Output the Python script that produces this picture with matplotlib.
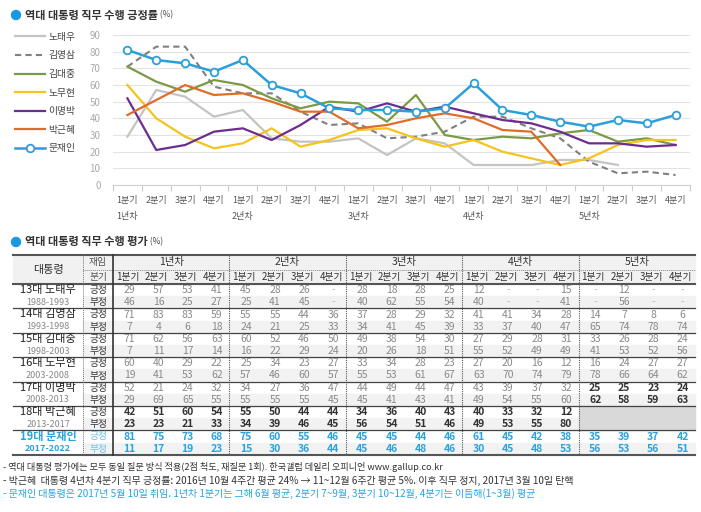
import matplotlib
matplotlib.use('Agg')
import matplotlib.pyplot as plt
from matplotlib.patches import Rectangle, Circle

plt.rcParams['font.family'] = ['Noto Sans CJK KR', 'DejaVu Sans']

W, H = 701, 512

# 데이터
presidents = ['노태우', '김영삼', '김대중', '노무현', '이명박', '박근혜', '문재인']
terms = ['13대', '14대', '15대', '16대', '17대', '18대', '19대']
periods = ['1988-1993', '1993-1998', '1998-2003', '2003-2008', '2008-2013', '2013-2017', '2017-2022']
quarters = ['1분기', '2분기', '3분기', '4분기']
year_labels = ['1년차', '2년차', '3년차', '4년차', '5년차']

N = None
pos_roh_tw = [29, 57, 53, 41, 45, 28, 26, N, 28, 18, 28, 25, 12, N, N, 15, N, 12, N, N]
neg_roh_tw = [46, 16, 25, 27, 25, 41, 45, N, 40, 62, 55, 54, 40, N, N, 41, N, 56, N, N]
pos_kim_ys = [71, 83, 83, 59, 55, 55, 44, 36, 37, 28, 29, 32, 41, 41, 34, 28, 14, 7, 8, 6]
neg_kim_ys = [7, 4, 6, 18, 24, 21, 25, 33, 34, 41, 45, 39, 33, 37, 40, 47, 65, 74, 78, 74]
pos_kim_dj = [71, 62, 56, 63, 60, 52, 46, 50, 49, 38, 54, 30, 27, 29, 28, 31, 33, 26, 28, 24]
neg_kim_dj = [7, 11, 17, 14, 16, 22, 29, 24, 20, 26, 18, 51, 55, 52, 49, 49, 41, 53, 52, 56]
pos_roh_mh = [60, 40, 29, 22, 25, 34, 23, 27, 33, 34, 28, 23, 27, 20, 16, 12, 16, 24, 27, 27]
neg_roh_mh = [19, 41, 53, 62, 57, 46, 60, 57, 55, 53, 61, 67, 63, 70, 74, 79, 78, 66, 64, 62]
pos_lee_mb = [52, 21, 24, 32, 34, 27, 36, 47, 44, 49, 44, 47, 43, 39, 37, 32, 25, 25, 23, 24]
neg_lee_mb = [29, 69, 65, 55, 55, 55, 55, 45, 45, 41, 43, 41, 49, 54, 55, 60, 62, 58, 59, 63]
pos_park_gh = [42, 51, 60, 54, 55, 50, 44, 44, 34, 36, 40, 43, 40, 33, 32, 12]
neg_park_gh = [23, 23, 21, 33, 34, 39, 46, 45, 56, 54, 51, 46, 49, 53, 55, 80]
pos_moon_ji = [81, 75, 73, 68, 75, 60, 55, 46, 45, 45, 44, 46, 61, 45, 42, 38, 35, 39, 37, 42]
neg_moon_ji = [11, 17, 19, 23, 15, 30, 36, 44, 45, 46, 48, 46, 30, 45, 48, 53, 56, 53, 56, 51]

# 그래프에 그려진 노태우 선 (빈 분기는 그림에서 읽은 값)
line_roh_tw = [29, 57, 53, 41, 45, 28, 26, 26, 28, 18, 28, 25, 12, 12, 12, 15, 15, 12]

pos_all = [pos_roh_tw, pos_kim_ys, pos_kim_dj, pos_roh_mh, pos_lee_mb, pos_park_gh, pos_moon_ji]
neg_all = [neg_roh_tw, neg_kim_ys, neg_kim_dj, neg_roh_mh, neg_lee_mb, neg_park_gh, neg_moon_ji]
line_all = [line_roh_tw, pos_kim_ys, pos_kim_dj, pos_roh_mh, pos_lee_mb, pos_park_gh, pos_moon_ji]

colors = ['#c4c4c4', '#808080', '#7b9a46', '#f5c31c', '#6b2e8e', '#de6d28', '#2a9fd8']
BLUE = '#2aa3dc'

fig = plt.figure(figsize=(W / 100, H / 100), dpi=100)

# 바탕 (표, 제목)
ov = fig.add_axes([0, 0, 1, 1])
ov.set_xlim(0, W)
ov.set_ylim(H, 0)
ov.axis('off')

# 선 그래프
ax = fig.add_axes([113 / W, 1 - 185 / H, (690 - 113) / W, (185 - 35) / H])
for name, vals, c in zip(presidents, line_all, colors):
    if name == '김영삼':
        ax.plot(range(len(vals)), vals, color=c, lw=1.5, ls=(0, (3, 2)), label=name)
    elif name == '문재인':
        ax.plot(range(len(vals)), vals, color=c, lw=1.8, marker='o', ms=5.5,
                mfc='white', mec=c, mew=1.3, label=name, zorder=5)
    else:
        ax.plot(range(len(vals)), vals, color=c, lw=1.6, label=name)

ax.set_xlim(-0.5, 19.5)
ax.set_ylim(0, 90)
ax.set_yticks(range(0, 91, 10))
ax.yaxis.grid(True, color='#e3e3e3', lw=0.8)
ax.set_axisbelow(True)
for s in ['top', 'right', 'left']:
    ax.spines[s].set_visible(False)
ax.spines['bottom'].set_color('#d0d0d0')
ax.set_xticks(range(20))
ax.set_xticklabels(quarters * 5, fontsize=6.5, color='#555555')
ax.set_xticks([i - 0.5 for i in range(21)], minor=True)
ax.tick_params(axis='x', which='major', length=0, pad=8)
ax.tick_params(axis='x', which='minor', length=4, color='#cccccc', width=0.8)
ax.tick_params(axis='y', length=0, pad=9, labelsize=7, labelcolor='#aaaaaa')
for i, yl in enumerate(year_labels):
    ax.text(i * 4, -0.207, yl, transform=ax.get_xaxis_transform(), ha='center', va='center',
            fontsize=6.5, color='#555555')

fig.legend(loc='upper left', bbox_to_anchor=(10 / W, 1 - 27 / H), frameon=False, fontsize=7,
           handlelength=3.1, handletextpad=0.35, labelspacing=0.88, borderpad=0, numpoints=1,
           labelcolor='#444444')

# 제목
for ty, title in [(15, '역대 대통령 직무 수행 긍정률'), (242, '역대 대통령 직무 수행 평가')]:
    ov.add_patch(Circle((16, ty), 4.5, color='#1a98e0'))
    t = ov.text(25, ty, title, fontsize=8, fontweight='bold', color='#333333', va='center')
    ov.annotate(' (%)', xy=(1, 0.5), xycoords=t, va='center', fontsize=6, color='#444444')

# 표
L, R = 13, 695
c1, c2 = 83, 113
cw = (R - c2) / 20
top, h1, h2 = 255, 270, 284
rh = 12.2
bottom = h2 + rh * 14

ov.add_patch(Rectangle((L, top), R - L, h2 - top, color='#f1f1f1', zorder=0))
for p in range(7):
    ov.add_patch(Rectangle((c1, h2 + rh * (2 * p + 1)), R - c1, rh, color='#f2f2f2', zorder=0))
ov.add_patch(Rectangle((c2 + cw * 16, h2 + rh * 10), cw * 4, rh * 2, color='#d9d9d9', zorder=0.5))

ov.text((L + c1) / 2, (top + h2) / 2, '대통령', ha='center', va='center', fontsize=8, color='#333333')
ov.text((c1 + c2) / 2, (top + h1) / 2, '재임', ha='center', va='center', fontsize=7, color='#555555')
ov.text((c1 + c2) / 2, (h1 + h2) / 2, '분기', ha='center', va='center', fontsize=7, color='#555555')
for y, yl in enumerate(year_labels):
    ov.text(c2 + cw * (4 * y + 2), (top + h1) / 2, yl, ha='center', va='center', fontsize=7.5, color='#333333')
for j in range(20):
    ov.text(c2 + cw * (j + 0.5), (h1 + h2) / 2, quarters[j % 4], ha='center', va='center',
            fontsize=7, color='#333333')

for p in range(7):
    is_moon = p == 6
    name_c = BLUE if is_moon else '#222222'
    yc = h2 + rh * 2 * p
    ov.text((L + c1) / 2, yc + rh * 0.5, terms[p] + ' ' + presidents[p], ha='center', va='center',
            fontsize=8, color=name_c, fontweight='bold' if is_moon else 'normal')
    ov.text((L + c1) / 2, yc + rh * 1.5, periods[p], ha='center', va='center', fontsize=6.5,
            color=BLUE if is_moon else '#888888', fontweight='bold' if is_moon else 'normal')
    for r, (lab, vals) in enumerate([('긍정', pos_all[p]), ('부정', neg_all[p])]):
        ov.text((c1 + c2) / 2, yc + rh * (r + 0.5), lab, ha='center', va='center', fontsize=7,
                color='#6cc0e8' if is_moon else '#333333')
        for j, v in enumerate(vals):
            if is_moon:
                col, fw = BLUE, 'bold'
            elif p == 5 or (p == 4 and j >= 16):
                col, fw = '#333333', 'bold'
            else:
                col, fw = '#8a8a8a', 'normal'
            txt = '-' if v is None else str(v)
            if v is None:
                col = '#bbbbbb'
            ov.text(c2 + cw * (j + 0.5) + 2, yc + rh * (r + 0.5), txt, ha='center', va='center',
                    fontsize=7.5, color=col, fontweight=fw)

# 선
ov.plot([L, R], [top, top], color='#555555', lw=1.5)
ov.plot([c1, R], [h1, h1], color='#888888', lw=0.7, ls=(0, (1, 1)))
ov.plot([L, R], [h2, h2], color='#555555', lw=1.5)
for p in range(1, 7):
    ov.plot([L, R], [h2 + rh * 2 * p] * 2, color='#444444', lw=0.9)
ov.plot([L, R], [bottom, bottom], color='#555555', lw=1.5)
ov.plot([c1, c1], [top, bottom], color='#777777', lw=0.7, ls=(0, (1, 1)))
ov.plot([c2, c2], [top, bottom], color='#333333', lw=1.2)
for y in range(1, 5):
    xx = c2 + cw * 4 * y
    ov.plot([xx, xx], [top, bottom], color='#555555', lw=0.8, ls=(0, (1, 1)))

# 주석
notes = [
    ('- 역대 대통령 평가에는 모두 동일 질문 방식 적용(2점 척도, 재질문 1회). 한국갤럽 데일리 오피니언 www.gallup.co.kr', '#333333', 6.6),
    ('- 박근혜  대통령 4년차 4분기 직무 긍정률: 2016년 10월 4주간 평균 24% → 11~12월 6주간 평균 5%. 이후 직무 정지, 2017년 3월 10일 탄핵', '#333333', 7.2),
    ('- 문재인 대통령은 2017년 5월 10일 취임. 1년차 1분기는 그해 6월 평균, 2분기 7~9월, 3분기 10~12월, 4분기는 이듬해(1~3월) 평균', BLUE, 7.2),
]
for k, (txt, c, fs) in enumerate(notes):
    ov.text(3, 467 + 13.5 * k, txt, fontsize=fs, color=c, va='center')

fig.savefig('out.png', dpi=100)
